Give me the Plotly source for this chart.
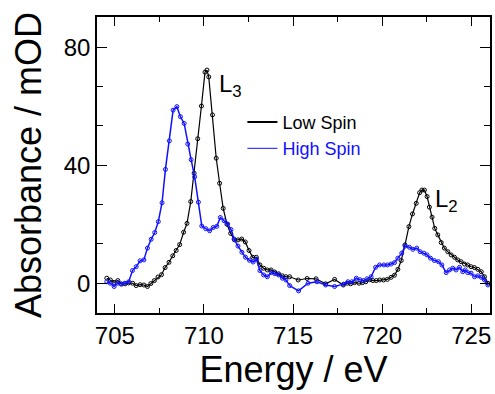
import plotly.graph_objects as go

# Low spin (black) spectrum
low_energy = [704.55, 704.75, 704.96, 705.17, 705.38, 705.58, 705.78, 706.0, 706.2, 706.42,
              706.63, 706.83, 707.02, 707.22, 707.42, 707.62, 707.82, 708.04, 708.25, 708.44,
              708.64, 708.86, 709.05, 709.26, 709.45, 709.65, 709.86, 710.06, 710.17, 710.27,
              710.48, 710.69, 710.88, 711.08, 711.29, 711.5, 711.71, 711.91, 712.12, 712.32,
              712.53, 712.74, 712.94, 713.14, 713.35, 713.56, 713.77, 713.97, 714.19, 714.4,
              714.6, 714.81, 715.29, 715.79, 716.29, 716.83, 717.33, 717.82, 718.04, 718.23,
              718.45, 718.7, 718.9, 719.08, 719.3, 719.48, 719.67, 719.86, 720.08, 720.29,
              720.5, 720.69, 720.88, 721.07, 721.28, 721.5, 721.7, 721.91, 722.1, 722.23,
              722.37, 722.52, 722.65, 722.8, 722.95, 723.12, 723.31, 723.49, 723.68, 723.87,
              724.06, 724.24, 724.43, 724.62, 724.8, 724.99, 725.18, 725.37, 725.56, 725.74,
              725.93]
low_abs = [1.7, 1.1, 0.3, 0.9, -0.3, -0.2, 0.1, 0.0, -0.8, -0.5,
           -0.6, -1.1, -0.1, 0.9, 2.1, 2.9, 5.3, 7.1, 9.3, 11.1,
           13.1, 17.3, 20.3, 27.7, 37.3, 49.0, 60.1, 71.6, 72.3, 70.0,
           57.1, 42.4, 33.9, 25.4, 20.0, 16.9, 14.7, 14.7, 15.0, 14.0,
           11.1, 8.8, 8.8, 6.2, 5.1, 4.5, 4.5, 3.8, 3.2, 2.5,
           2.2, 2.2, 1.1, 1.6, 1.5, -0.2, 1.3, -0.6, 0.0, -0.2,
           0.2, 0.0, 0.2, 0.5, 1.2, 0.9, 0.9, 1.1, 1.1, 1.3,
           2.0, 2.7, 4.7, 7.7, 13.0, 19.2, 23.5, 27.1, 30.7, 31.6,
           31.6, 29.4, 25.8, 22.4, 18.6, 16.4, 13.8, 11.9, 10.7, 9.6,
           8.8, 7.9, 7.3, 6.5, 6.2, 5.6, 5.3, 4.7, 3.9, 2.2,
           0.0]

# High spin (blue) spectrum
high_energy = [704.55, 704.74, 704.96, 705.15, 705.34, 705.56, 705.78, 705.99, 706.2, 706.42,
               706.63, 706.83, 707.04, 707.24, 707.44, 707.65, 707.84, 708.06, 708.27, 708.48,
               708.68, 708.89, 709.09, 709.28, 709.48, 709.69, 709.88, 710.1, 710.32, 710.52,
               710.72, 710.92, 711.13, 711.33, 711.52, 711.69, 711.91, 712.13, 712.33, 712.55,
               712.76, 712.95, 713.14, 713.35, 713.56, 713.78, 713.98, 714.19, 714.4, 714.6,
               714.81, 715.31, 715.84, 716.34, 716.83, 717.33, 717.83, 718.08, 718.3, 718.55,
               718.75, 718.95, 719.15, 719.38, 719.63, 719.85, 720.1, 720.3, 720.5, 720.69,
               720.88, 721.1, 721.29, 721.53, 721.72, 721.94, 722.13, 722.34, 722.52, 722.71,
               722.93, 723.16, 723.35, 723.59, 723.78, 723.96, 724.15, 724.34, 724.52, 724.66,
               724.8, 724.99, 725.18, 725.37, 725.56, 725.74, 725.93]
high_abs = [0.5, 0.0, -1.1, 0.0, -0.2, 0.0, 0.5, 4.3, 5.6, 7.6,
            7.9, 11.9, 14.9, 17.2, 20.9, 27.3, 38.6, 48.3, 58.7, 59.9,
            56.5, 54.2, 47.2, 41.9, 36.1, 27.5, 19.4, 18.5, 17.8, 18.9,
            19.3, 22.3, 21.2, 20.1, 18.2, 15.0, 12.6, 10.5, 8.8, 7.8,
            7.2, 8.1, 4.3, 2.8, 2.2, 3.6, 3.2, 2.8, 1.7, 1.1,
            -0.8, -2.6, 0.0, 0.5, -0.6, -1.1, -0.3, 0.5, 0.5, 1.7,
            1.2, 0.9, 1.5, 2.2, 5.4, 6.2, 6.2, 6.2, 6.5, 7.0,
            8.5, 10.2, 12.6, 12.2, 11.5, 11.9, 10.7, 10.2, 9.6, 8.5,
            7.7, 7.3, 6.2, 3.6, 4.5, 5.1, 4.5, 5.4, 3.9, 4.5,
            3.6, 3.4, 2.2, 2.5, 2.0, 1.1, -0.6]

x_ticks = [705, 710, 715, 720, 725]
y_ticks = [0, 40, 80]

BLUE = "#1010ff"
FONT = "Liberation Sans, Arial"

fig = go.Figure()
fig.add_trace(go.Scatter(
    x=low_energy, y=low_abs, mode="lines+markers", showlegend=False,
    line=dict(color="black", width=1.2),
    marker=dict(symbol="circle-open", size=4, color="black", line=dict(width=1))))
fig.add_trace(go.Scatter(
    x=high_energy, y=high_abs, mode="lines+markers", showlegend=False,
    line=dict(color=BLUE, width=1.5),
    marker=dict(symbol="circle-open", size=4, color=BLUE, line=dict(width=1))))
# legend entries (lines only)
fig.add_trace(go.Scatter(x=[None], y=[None], mode="lines", name="Low Spin",
                         line=dict(color="black", width=2)))
fig.add_trace(go.Scatter(x=[None], y=[None], mode="lines",
                         name=f'<span style="color:{BLUE}">High Spin</span>',
                         line=dict(color=BLUE, width=1)))

axis_common = dict(
    showline=True, linecolor="black", linewidth=1.5, mirror="ticks",
    ticks="inside", tickcolor="black", tickwidth=1.2,
    showgrid=False, zeroline=False,
    tickfont=dict(family=FONT, size=24, color="black"),
)

fig.update_xaxes(
    range=[704.0, 726.05], tickvals=x_ticks, ticklen=9,
    minor=dict(dtick=2.5, tick0=705, ticklen=5, ticks="inside", tickcolor="black", tickwidth=1.2),
    title=dict(text="Energy / eV", font=dict(family=FONT, size=36, color="black"), standoff=7),
    **axis_common)
fig.update_yaxes(
    range=[-10.1, 90.3], tickvals=y_ticks, ticklen=10,
    minor=dict(dtick=40 / 3, tick0=0, ticklen=6, ticks="inside", tickcolor="black", tickwidth=1.2),
    title=dict(text="Absorbance / mOD", font=dict(family=FONT, size=36, color="black"), standoff=11),
    **axis_common)

fig.add_annotation(x=710.75, y=67, text="L<sub>3</sub>", showarrow=False, xanchor="left",
                   font=dict(family=FONT, size=24, color="black"))
fig.add_annotation(x=722.85, y=28, text="L<sub>2</sub>", showarrow=False, xanchor="left",
                   font=dict(family=FONT, size=24, color="black"))

fig.update_layout(
    width=495, height=394,
    margin=dict(l=97, r=5, t=17, b=81, autoexpand=False),
    paper_bgcolor="white", plot_bgcolor="white",
    font=dict(family=FONT, color="black"),
    legend=dict(x=0.37, y=0.707, xanchor="left", yanchor="top",
                bgcolor="rgba(0,0,0,0)", font=dict(family=FONT, size=18, color="black"),
                itemwidth=30, tracegroupgap=0),
)

fig.write_html("out.html", config={"displayModeBar": False},
               post_script="document.body.style.margin='0px';document.body.style.overflow='hidden';")
